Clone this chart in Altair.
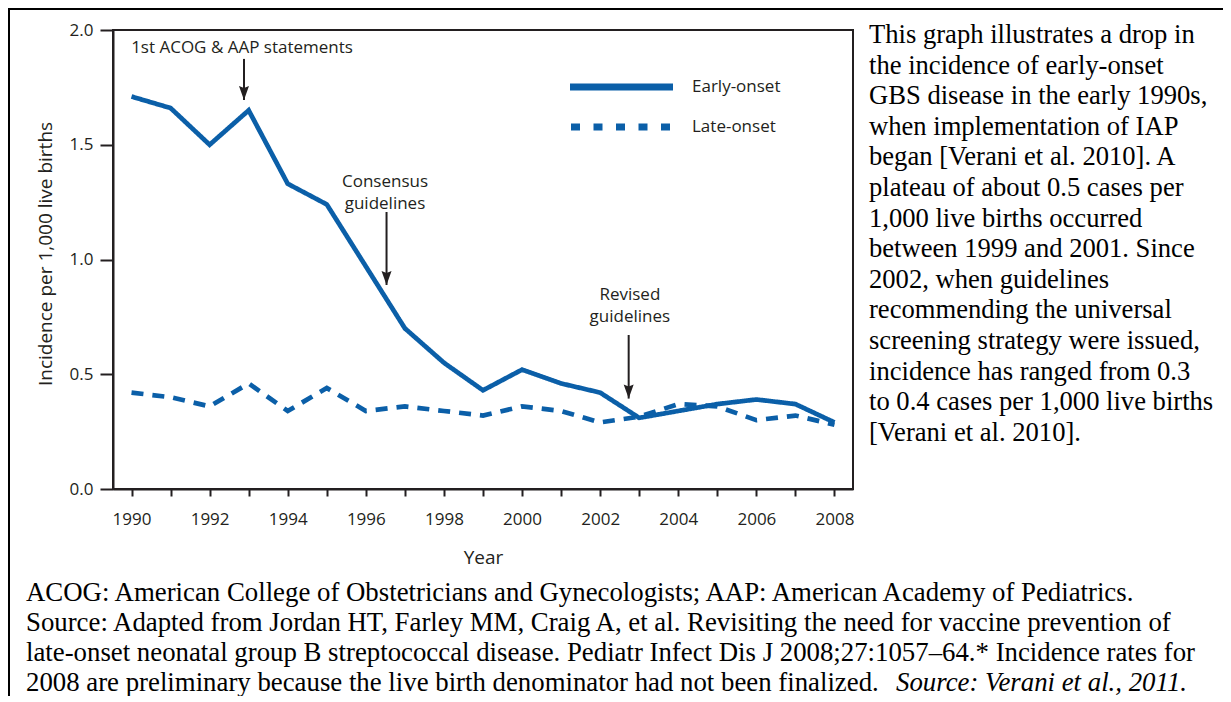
import altair as alt
import pandas as pd

years = list(range(1990, 2009))
early_onset = [1.71, 1.66, 1.50, 1.65, 1.33, 1.24, 0.97, 0.70, 0.55, 0.43,
               0.52, 0.46, 0.42, 0.31, 0.34, 0.37, 0.39, 0.37, 0.29]
late_onset = [0.42, 0.40, 0.36, 0.46, 0.34, 0.44, 0.34, 0.36, 0.34, 0.32,
              0.36, 0.34, 0.29, 0.315, 0.37, 0.36, 0.30, 0.32, 0.28]
series_names = ["Early-onset", "Late-onset"]

y_ticks = [0.0, 0.5, 1.0, 1.5, 2.0]

ann_labels = [["1st ACOG & AAP statements"], ["Consensus", "guidelines"], ["Revised", "guidelines"]]
ann_text_x = [1992.83, 1996.49, 2002.76]
ann_text_y = [1.922, 1.338, 0.845]
arrow_x = [1992.88, 1996.53, 2002.73]
arrow_top = [1.874, 1.207, 0.671]
arrow_tip = [1.695, 0.889, 0.394]

side_text = [
    "This graph illustrates a drop in",
    "the incidence of early-onset",
    "GBS disease in the early 1990s,",
    "when implementation of IAP",
    "began [Verani et al. 2010].  A",
    "plateau of about 0.5 cases per",
    "1,000 live births occurred",
    "between 1999 and 2001.  Since",
    "2002, when guidelines",
    "recommending the universal",
    "screening strategy were issued,",
    "incidence has ranged from 0.3",
    "to 0.4 cases per 1,000 live births",
    "[Verani et al. 2010].",
]
footer_1 = [
    "ACOG: American College of Obstetricians and Gynecologists; AAP: American Academy of Pediatrics.",
    "Source: Adapted from Jordan HT, Farley MM, Craig A, et al. Revisiting the need for vaccine prevention of",
    "late-onset neonatal group B streptococcal disease. Pediatr Infect Dis J 2008;27:1057\u201364.* Incidence rates for",
]
footer_last_plain = "2008 are preliminary because the live birth denominator had not been finalized. "
footer_last_italic = "Source: Verani et al., 2011."

BLUE = "#0b5fa8"
INK = "#231f20"
SANS = "Open Sans"
SERIF = "Liberation Serif"

W, H = 740, 459
XDOM = [1989.526, 2008.474]

df = pd.DataFrame({
    "year": years * 2,
    "value": early_onset + late_onset,
    "series": [series_names[0]] * len(years) + [series_names[1]] * len(years),
})

xs = alt.Scale(domain=XDOM, nice=False, zero=False)
ys = alt.Scale(domain=[0, 2], nice=False)

lines = alt.Chart(df).mark_line(color=BLUE, strokeWidth=4.7, strokeCap="butt", strokeJoin="miter").encode(
    x=alt.X("year:Q", scale=xs,
            axis=alt.Axis(values=years, format="d", title="Year",
                          labelExpr="datum.value % 2 == 0 ? datum.label : ''",
                          labelFont=SANS, labelFontSize=17, labelColor=INK, labelPadding=15,
                          tickSize=7, tickWidth=2, tickColor=INK, domainWidth=2, domainColor=INK,
                          titleFont=SANS, titleFontSize=19, titleFontWeight="normal", titleColor=INK,
                          titlePadding=21, grid=False)),
    y=alt.Y("value:Q", scale=ys,
            axis=alt.Axis(values=y_ticks, format=".1f", title=None,
                          labelFont=SANS, labelFontSize=17, labelColor=INK, labelPadding=7,
                          tickSize=13, tickWidth=2, tickColor=INK, domainWidth=2, domainColor=INK,
                          grid=False)),
    strokeDash=alt.StrokeDash("series:N",
                              scale=alt.Scale(domain=series_names, range=[[1, 0], [12, 9]]),
                              legend=None),
    detail="series:N",
)

ann_df = pd.DataFrame({"x": ann_text_x, "y": ann_text_y, "label": ann_labels})
ann_text = alt.Chart(ann_df).mark_text(font=SANS, fontSize=17, color=INK, align="center",
                                       baseline="middle", lineHeight=22).encode(
    x=alt.X("x:Q", scale=xs), y=alt.Y("y:Q", scale=ys), text="label")

arr_df = pd.DataFrame({"x": arrow_x, "top": arrow_top, "tip": arrow_tip})
arr_rule = alt.Chart(arr_df).mark_rule(color=INK, strokeWidth=2).encode(
    x=alt.X("x:Q", scale=xs), y=alt.Y("top:Q", scale=ys), y2="tip:Q")
arr_head = alt.Chart(arr_df).mark_point(shape="M-0.5,-1.4L0,-1.2L0.5,-1.4L0,0Z", filled=True, color=INK,
                                        opacity=1, size=400, strokeWidth=0).encode(
    x=alt.X("x:Q", scale=xs), y=alt.Y("tip:Q", scale=ys))

# legend (manual)
leg_solid = alt.Chart(pd.DataFrame({"s": [series_names[0]]})).mark_rule(
    color=BLUE, strokeWidth=7, strokeCap="butt").encode(
    x=alt.value(457), x2=alt.value(560), y=alt.value(57))
leg_dash = alt.Chart(pd.DataFrame({"s": [series_names[1]]})).mark_rule(
    color=BLUE, strokeWidth=7, strokeCap="butt", strokeDash=[9, 13.5]).encode(
    x=alt.value(458), x2=alt.value(557), y=alt.value(97))
leg_text = alt.Chart(pd.DataFrame({"s": series_names, "yy": [57, 97]})).mark_text(
    font=SANS, fontSize=17, color=INK, align="left", baseline="middle").encode(
    x=alt.value(579), y=alt.Y("yy:Q", scale=None), text="s:N")

ytitle = alt.Chart(pd.DataFrame({"t": ["Incidence per 1,000 live births"]})).mark_text(
    font=SANS, fontSize=19, color=INK, angle=270, align="center", baseline="middle").encode(
    x=alt.value(-67), y=alt.value(224), text="t:N")

side = alt.Chart(pd.DataFrame({"t": [side_text]})).mark_text(
    font=SERIF, fontSize=26.6, color="#000000", align="left", baseline="alphabetic",
    lineHeight=30.6).encode(x=alt.value(756), y=alt.value(13), text="t")

foot = alt.Chart(pd.DataFrame({"t": [footer_1]})).mark_text(
    font=SERIF, fontSize=26.8, color="#000000", align="left", baseline="alphabetic",
    lineHeight=30).encode(x=alt.value(-87), y=alt.value(571), text="t")
foot_last = alt.Chart(pd.DataFrame({"t": [footer_last_plain]})).mark_text(
    font=SERIF, fontSize=26.8, color="#000000", align="left", baseline="alphabetic").encode(
    x=alt.value(-87), y=alt.value(661), text="t:N")
foot_it = alt.Chart(pd.DataFrame({"t": [footer_last_italic]})).mark_text(
    font=SERIF, fontSize=26.8, fontStyle="italic", color="#000000", align="left", baseline="alphabetic").encode(
    x=alt.value(783), y=alt.value(661), text="t:N")

frame_top = alt.Chart(pd.DataFrame({"a": [0]})).mark_rule(color="#000000", strokeWidth=2).encode(
    x=alt.value(-105), x2=alt.value(1120), y=alt.value(-21))
frame_left = alt.Chart(pd.DataFrame({"a": [0]})).mark_rule(color="#000000", strokeWidth=2).encode(
    x=alt.value(-104), y=alt.value(-22), y2=alt.value(700))

chart = alt.layer(
    frame_top, frame_left, lines, ann_text, arr_rule, arr_head,
    leg_solid, leg_dash, leg_text, ytitle, side, foot, foot_last, foot_it,
).properties(
    width=W, height=H,
    autosize=alt.AutoSizeParams(type="none"),
    padding={"left": 105, "top": 22, "right": 370, "bottom": 207},
    background="white",
).configure_view(stroke=INK, strokeWidth=2)

chart.save("out.html", embed_options={"renderer": "svg", "actions": False})
